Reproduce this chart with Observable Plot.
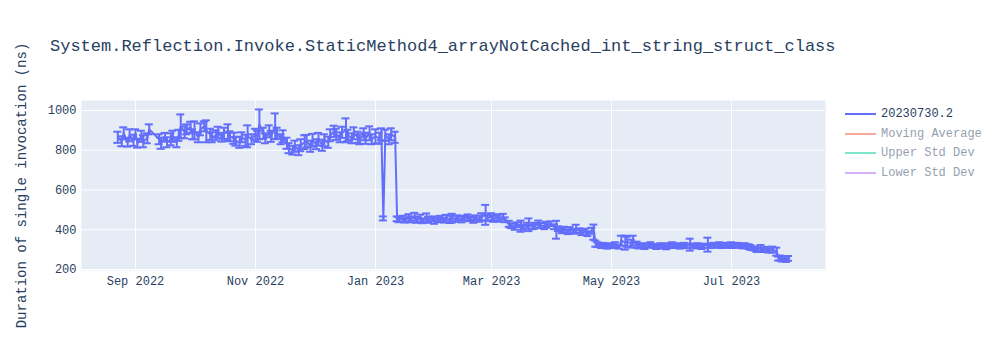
<!DOCTYPE html>
<html>
<head>
<meta charset="utf-8">
<script src="https://cdn.jsdelivr.net/npm/d3@7"></script>
<script src="https://cdn.jsdelivr.net/npm/@observablehq/plot@0.6"></script>
<style>
  html, body { margin: 0; padding: 0; background: #fff; }
  #wrap { position: relative; width: 1000px; height: 350px; font-family: "Liberation Mono", "DejaVu Sans Mono", monospace; }
  #title { position: absolute; left: 50px; top: 38px; font-size: 17px; line-height: 17px; color: #2a3f5f; white-space: nowrap; }
  #legend { position: absolute; left: 845px; top: 104px; font-size: 12px; color: #2a3f5f; }
  .row { position: relative; height: 19.5px; white-space: nowrap; }
  .sw { position: absolute; left: 0px; top: 9px; width: 31px; height: 2px; }
  .lab { position: absolute; left: 36px; top: 3px; line-height: 14px; }
  .off { opacity: 0.5; }
</style>
</head>
<body>
<div id="wrap">
  <div id="chart"></div>
  <div id="title">System.Reflection.Invoke.StaticMethod4_arrayNotCached_int_string_struct_class</div>
  <div id="legend"></div>
</div>
<script>
// ---- data ----
const legendNames = ["20230730.2", "Moving Average", "Upper Std Dev", "Lower Std Dev"];
const legendColors = ["#636EFA", "#EF553B", "#00CC96", "#AB63FA"];
const legendVisible = [true, false, false, false];

const dates = [
  "2022-08-23","2022-08-25","2022-08-26","2022-08-28","2022-08-29","2022-08-31","2022-09-01","2022-09-02","2022-09-04","2022-09-05","2022-09-07","2022-09-08",
  "2022-09-13","2022-09-14","2022-09-16","2022-09-17","2022-09-19","2022-09-20","2022-09-22","2022-09-23","2022-09-24","2022-09-26","2022-09-27","2022-09-29","2022-09-30",
  "2022-10-01","2022-10-03","2022-10-04","2022-10-06","2022-10-07","2022-10-09","2022-10-10","2022-10-12","2022-10-13","2022-10-15","2022-10-16","2022-10-18","2022-10-19",
  "2022-10-21","2022-10-22","2022-10-24","2022-10-25","2022-10-27","2022-10-28","2022-10-30","2022-11-01",
  "2022-11-02","2022-11-03","2022-11-05","2022-11-06","2022-11-08","2022-11-09","2022-11-11","2022-11-12","2022-11-14","2022-11-15",
  "2022-11-17","2022-11-18","2022-11-20","2022-11-21","2022-11-23","2022-11-24","2022-11-26","2022-11-27","2022-11-29","2022-11-30",
  "2022-12-02","2022-12-03","2022-12-05","2022-12-06","2022-12-08","2022-12-09","2022-12-11","2022-12-12","2022-12-14","2022-12-15",
  "2022-12-17","2022-12-18","2022-12-20","2022-12-21","2022-12-23","2022-12-24","2022-12-26","2022-12-27","2022-12-29","2022-12-30",
  "2023-01-01","2023-01-03","2023-01-04","2023-01-05","2023-01-06","2023-01-08","2023-01-09","2023-01-11","2023-01-12",
  "2023-01-13","2023-01-15","2023-01-16","2023-01-18","2023-01-19","2023-01-21","2023-01-22","2023-01-24","2023-01-25","2023-01-27","2023-01-28","2023-01-30","2023-01-31",
  "2023-02-02","2023-02-03","2023-02-05","2023-02-06","2023-02-08","2023-02-09","2023-02-11","2023-02-12","2023-02-14","2023-02-15","2023-02-17","2023-02-18",
  "2023-02-20","2023-02-21","2023-02-23","2023-02-24","2023-02-26","2023-02-27","2023-03-01","2023-03-02","2023-03-04","2023-03-05","2023-03-07","2023-03-08",
  "2023-03-10","2023-03-11","2023-03-13","2023-03-14","2023-03-16","2023-03-17","2023-03-19","2023-03-20","2023-03-22","2023-03-23","2023-03-25","2023-03-26",
  "2023-03-28","2023-03-29","2023-03-31","2023-04-02","2023-04-03","2023-04-04","2023-04-06","2023-04-07","2023-04-09","2023-04-10","2023-04-12","2023-04-13",
  "2023-04-15","2023-04-16","2023-04-18","2023-04-19","2023-04-21","2023-04-22","2023-04-23",
  "2023-04-24","2023-04-26","2023-04-27","2023-04-29","2023-04-30","2023-05-02","2023-05-03","2023-05-05","2023-05-06","2023-05-08","2023-05-09","2023-05-11",
  "2023-05-12","2023-05-14","2023-05-15","2023-05-17","2023-05-18","2023-05-20","2023-05-21","2023-05-23","2023-05-24","2023-05-26","2023-05-27","2023-05-29",
  "2023-05-30","2023-06-01","2023-06-02","2023-06-04","2023-06-05","2023-06-07","2023-06-08","2023-06-10","2023-06-11","2023-06-13","2023-06-14","2023-06-16",
  "2023-06-17","2023-06-19","2023-06-20","2023-06-22","2023-06-23","2023-06-25","2023-06-26","2023-06-28","2023-06-29","2023-07-01","2023-07-02","2023-07-04",
  "2023-07-05","2023-07-07","2023-07-08","2023-07-10","2023-07-11","2023-07-13","2023-07-14","2023-07-16","2023-07-17","2023-07-19","2023-07-20","2023-07-22",
  "2023-07-24","2023-07-25","2023-07-26","2023-07-27","2023-07-28","2023-07-29","2023-07-30"
];

const values = [
  865,845,885,840,875,850,880,835,870,845,860,905,
  855,835,865,840,855,870,840,875,920,890,905,915,880,
  900,865,905,920,895,880,865,875,890,865,885,890,870,
  860,845,840,865,850,870,855,880,
  870,930,885,860,895,870,920,885,855,870,
  835,810,800,820,800,825,840,845,820,850,
  830,855,825,850,840,875,895,880,865,890,
  900,875,860,885,865,855,880,860,885,855,
  870,860,880,457,875,855,880,865,455,
  450,455,448,460,452,465,450,458,445,462,450,455,445,
  450,455,448,460,452,458,455,460,452,458,462,455,
  450,460,455,465,475,460,465,455,462,458,465,450,
  430,420,415,425,418,412,420,425,415,420,428,422,
  418,425,430,415,400,405,395,400,390,398,392,405,
  395,385,390,380,395,388,330,
  325,318,322,315,320,318,325,315,345,335,340,330,
  345,325,318,322,315,320,325,318,315,322,318,312,
  320,325,318,320,315,322,318,325,320,318,322,315,
  320,325,318,322,320,325,318,322,320,325,318,322,
  320,318,322,315,310,305,300,308,298,302,295,300,
  290,255,258,250,255,248,256
];

const errors = [
  28,25,30,22,30,28,25,22,28,30,25,25,
  25,28,22,25,30,28,25,28,60,30,25,28,25,
  45,25,30,25,55,28,25,25,28,22,28,40,25,
  28,22,28,25,28,55,25,28,
  28,75,28,25,30,28,65,28,25,30,
  28,25,22,28,25,30,35,32,28,32,
  25,32,28,30,28,30,28,28,25,28,
  60,28,25,30,28,25,30,28,35,25,
  35,28,30,10,28,25,30,28,12,
  12,15,12,18,15,20,15,18,12,20,15,12,15,
  12,15,12,15,18,22,15,12,15,12,15,12,
  15,12,15,18,50,15,18,15,15,18,15,12,
  15,12,15,12,28,12,15,32,12,15,18,12,
  15,15,12,12,45,12,12,15,12,15,12,20,
  12,12,15,12,15,38,15,
  12,10,12,10,12,10,12,10,25,35,25,20,
  25,15,12,10,12,10,12,10,12,10,12,10,
  12,12,10,12,10,12,10,30,10,12,10,12,
  10,35,10,12,10,12,10,12,10,12,10,12,
  10,12,10,12,12,10,12,15,10,12,10,15,
  20,10,12,10,12,10,12
];

const xTicks = ["2022-09-01","2022-11-01","2023-01-01","2023-03-01","2023-05-01","2023-07-01"];
const yTicks = [200, 400, 600, 800, 1000];
const xDomain = ["2022-08-04T13:00:00Z", "2023-08-17T19:00:00Z"];
const yDomain = [195, 1050];
const yLabel = "Duration of single invocation (ns)";

// ---- build ----
const data = dates.map((d, i) => ({date: new Date(d), value: values[i], err: errors[i]}));
const color = legendColors[0];
const xTickDates = xTicks.map(d => new Date(d));

const chart = Plot.plot({
  width: 1000,
  height: 350,
  marginLeft: 81,
  marginRight: 175,
  marginTop: 100,
  marginBottom: 80,
  style: {fontFamily: "'Liberation Mono', monospace", fontSize: "12px", color: "#2a3f5f", background: "white"},
  x: {type: "utc", domain: xDomain.map(d => new Date(d))},
  y: {domain: yDomain},
  marks: [
    Plot.frame({fill: "#E5ECF6", stroke: null}),
    Plot.gridX(xTickDates, {stroke: "white", strokeOpacity: 1, strokeWidth: 1}),
    Plot.gridY(yTicks, {stroke: "white", strokeOpacity: 1, strokeWidth: 1}),
    Plot.axisX(xTickDates, {tickSize: 0, tickPadding: 6, tickFormat: d3.utcFormat("%b %Y"), label: null, fill: "#2a3f5f", fontSize: 12}),
    Plot.axisY(yTicks, {tickSize: 0, tickPadding: 5, tickFormat: d => String(d), label: null, fill: "#2a3f5f", fontSize: 12}),
    Plot.axisY([], {tickSize: 0, label: yLabel, labelAnchor: "center", labelOffset: 65, labelArrow: "none", fill: "#2a3f5f", fontSize: 14}),
    Plot.line(data, {x: "date", y: "value", stroke: color, strokeWidth: 2}),
    Plot.ruleX(data, {x: "date", y1: d => d.value - d.err, y2: d => d.value + d.err, stroke: color, strokeWidth: 2}),
    Plot.ruleY(data, {y: d => d.value + d.err, x1: "date", x2: "date", insetLeft: -4, insetRight: -4, stroke: color, strokeWidth: 2}),
    Plot.ruleY(data, {y: d => d.value - d.err, x1: "date", x2: "date", insetLeft: -4, insetRight: -4, stroke: color, strokeWidth: 2})
  ]
});
document.getElementById("chart").appendChild(chart);

// legend
const leg = document.getElementById("legend");
legendNames.forEach((name, i) => {
  const row = document.createElement("div");
  row.className = "row" + (legendVisible[i] ? "" : " off");
  row.innerHTML = `<div class="sw" style="background:${legendColors[i]}"></div><div class="lab">${name}</div>`;
  leg.appendChild(row);
});
</script>
</body>
</html>
